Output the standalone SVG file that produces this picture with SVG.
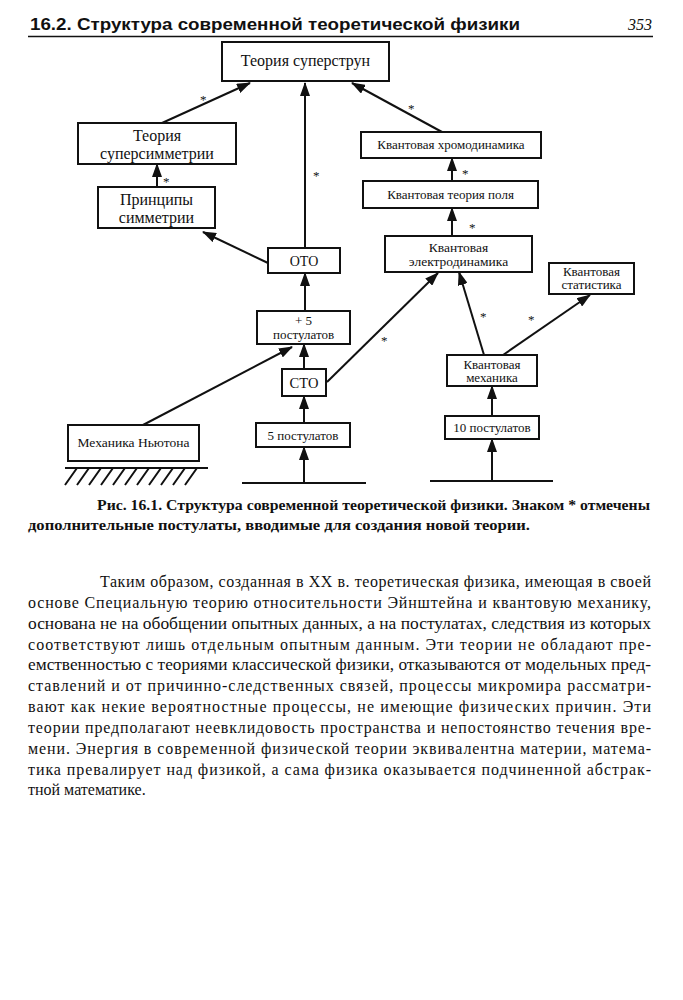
<svg xmlns="http://www.w3.org/2000/svg" width="683" height="1000" viewBox="0 0 683 1000">
<defs>
<marker id="ah" markerUnits="userSpaceOnUse" markerWidth="14" markerHeight="10" refX="13" refY="5" orient="auto">
<path d="M0,0 L14,5 L0,10 Z" fill="#111"/>
</marker>
<style>
.box{fill:#fff;stroke:#111;stroke-width:2}
.t{fill:#111;text-anchor:middle}
.big{font-size:16px}
.sm{font-size:13px}
.ln{stroke:#111;stroke-width:2;fill:none}
.ar{stroke:#111;stroke-width:2;fill:none;marker-end:url(#ah)}
.st{font-size:13px;fill:#111}
.body{font-size:16px;fill:#111}
.cap{font-size:14.5px;font-weight:bold;fill:#111}
</style>
</defs>
<rect width="683" height="1000" fill="#fff"/>
<g id="header">
<text x="30" y="30" font-family="'Liberation Sans', Arial, sans-serif" font-weight="bold" font-size="17" textLength="490" lengthAdjust="spacingAndGlyphs" fill="#111">16.2. Структура современной теоретической физики</text>
<text x="652" y="30" font-family="'Liberation Serif', serif" font-style="italic" font-size="16" text-anchor="end" fill="#111">353</text>
<line x1="28" y1="36.5" x2="653" y2="36.5" stroke="#111" stroke-width="1.5"/>
</g>
<g id="connectors" font-family="'Liberation Serif', serif">
<line class="ar" x1="162" y1="123" x2="250" y2="83"/>
<line class="ar" x1="305" y1="248" x2="305" y2="83"/>
<line class="ar" x1="442" y1="132" x2="352" y2="83"/>
<line class="ar" x1="157" y1="187" x2="157" y2="164"/>
<line class="ar" x1="268" y1="263" x2="203" y2="232"/>
<line class="ar" x1="305" y1="311" x2="305" y2="273"/>
<line class="ar" x1="143" y1="425" x2="292" y2="347"/>
<line class="ar" x1="304" y1="369" x2="304" y2="344"/>
<line class="ar" x1="304" y1="423" x2="304" y2="396"/>
<line class="ar" x1="304" y1="483" x2="304" y2="447"/>
<line class="ar" x1="327" y1="382" x2="438" y2="273"/>
<line class="ar" x1="484" y1="355" x2="459" y2="272"/>
<line class="ar" x1="503" y1="355" x2="590" y2="295"/>
<line class="ar" x1="492" y1="416" x2="492" y2="386"/>
<line class="ar" x1="492" y1="481" x2="492" y2="439"/>
<line class="ar" x1="452" y1="181" x2="452" y2="158"/>
<line class="ar" x1="452" y1="236" x2="452" y2="208"/>
<text class="st" x="200" y="104">*</text>
<text class="st" x="313" y="180">*</text>
<text class="st" x="408" y="113">*</text>
<text class="st" x="163" y="186">*</text>
<text class="st" x="381" y="345">*</text>
<text class="st" x="480" y="321">*</text>
<text class="st" x="528" y="324">*</text>
<text class="st" x="462" y="178">*</text>
<text class="st" x="469" y="232">*</text>
</g>
<g id="ground">
<line class="ln" x1="65" y1="468" x2="208" y2="468"/>
<path class="ln" stroke-width="1.6" d="M77,468 l-12,17 M89,468 l-12,17 M101,468 l-12,17 M113,468 l-12,17 M125,468 l-12,17 M137,468 l-12,17 M149,468 l-12,17 M161,468 l-12,17 M173,468 l-12,17 M185,468 l-12,17 M197,468 l-12,17"/>
<line class="ln" x1="242" y1="483" x2="366" y2="483"/>
<line class="ln" x1="430" y1="481" x2="553" y2="481"/>
</g>
<g id="nodes" font-family="'Liberation Serif', 'Times New Roman', serif">
<g id="n-superstrings"><rect class="box" x="222" y="42" width="167" height="39"/><text class="t big" x="305.5" y="66">Теория суперструн</text></g>
<g id="n-supersym"><rect class="box" x="78" y="123" width="158" height="41"/><text class="t big" x="157" y="141">Теория</text><text class="t big" x="157" y="159">суперсимметрии</text></g>
<g id="n-principles"><rect class="box" x="98" y="187" width="117" height="41"/><text class="t big" x="156.5" y="205">Принципы</text><text class="t big" x="156.5" y="223">симметрии</text></g>
<g id="n-oto"><rect class="box" x="268" y="248" width="72" height="25"/><text class="t" font-size="14" x="304" y="266">ОТО</text></g>
<g id="n-plus5"><rect class="box" x="257" y="311" width="93" height="33"/><text class="t sm" x="303.5" y="325">+ 5</text><text class="t sm" x="303.5" y="339">постулатов</text></g>
<g id="n-sto"><rect class="box" x="282" y="369" width="44" height="27"/><text class="t" font-size="14.5" x="304" y="388">СТО</text></g>
<g id="n-5post"><rect class="box" x="256" y="423" width="94" height="24"/><text class="t sm" x="303" y="440">5 постулатов</text></g>
<g id="n-newton"><rect class="box" x="68" y="425" width="131" height="36"/><text class="t" font-size="13.5" x="133.5" y="447">Механика Ньютона</text></g>
<g id="n-qcd"><rect class="box" x="361" y="132" width="180" height="26"/><text class="t sm" x="451" y="149">Квантовая хромодинамика</text></g>
<g id="n-qft"><rect class="box" x="363" y="181" width="175" height="27"/><text class="t sm" x="450.5" y="199">Квантовая теория поля</text></g>
<g id="n-qed"><rect class="box" x="385" y="236" width="147" height="36"/><text class="t" font-size="13.5" x="458.5" y="252">Квантовая</text><text class="t" font-size="13.5" x="458.5" y="266">электродинамика</text></g>
<g id="n-qstat"><rect class="box" x="549" y="263" width="85" height="31"/><text class="t sm" x="591.5" y="276">Квантовая</text><text class="t sm" x="591.5" y="289">статистика</text></g>
<g id="n-qm"><rect class="box" x="447" y="355" width="90" height="31"/><text class="t sm" x="492" y="369">Квантовая</text><text class="t sm" x="492" y="382">механика</text></g>
<g id="n-10post"><rect class="box" x="445" y="416" width="94" height="23"/><text class="t sm" x="492" y="432">10 постулатов</text></g>
</g>
<g id="caption" font-family="'Liberation Serif', 'Times New Roman', serif">
<text class="cap" x="97" y="510" textLength="553" lengthAdjust="spacingAndGlyphs">Рис. 16.1. Структура современной теоретической физики. Знаком * отмечены</text>
<text class="cap" x="28" y="530" textLength="502" lengthAdjust="spacingAndGlyphs">дополнительные постулаты, вводимые для создания новой теории.</text>
</g>
<g id="body" font-family="'Liberation Serif', 'Times New Roman', serif">
<text class="body" x="100" y="587" textLength="551" lengthAdjust="spacing">Таким образом, созданная в XX в. теоретическая физика, имеющая в своей</text>
<text class="body" x="28" y="608" textLength="623" lengthAdjust="spacing">основе Специальную теорию относительности Эйнштейна и квантовую механику,</text>
<text class="body" x="28" y="629" textLength="623" lengthAdjust="spacingAndGlyphs">основана не на обобщении опытных данных, а на постулатах, следствия из которых</text>
<text class="body" x="28" y="650" textLength="623" lengthAdjust="spacing">соответствуют лишь отдельным опытным данным. Эти теории не обладают пре-</text>
<text class="body" x="28" y="670" textLength="623" lengthAdjust="spacingAndGlyphs">емственностью с теориями классической физики, отказываются от модельных пред-</text>
<text class="body" x="28" y="691" textLength="623" lengthAdjust="spacing">ставлений и от причинно-следственных связей, процессы микромира рассматри-</text>
<text class="body" x="28" y="712" textLength="623" lengthAdjust="spacing">вают как некие вероятностные процессы, не имеющие физических причин. Эти</text>
<text class="body" x="28" y="733" textLength="623" lengthAdjust="spacing">теории предполагают неевклидовость пространства и непостоянство течения вре-</text>
<text class="body" x="28" y="754" textLength="623" lengthAdjust="spacing">мени. Энергия в современной физической теории эквивалентна материи, матема-</text>
<text class="body" x="28" y="775" textLength="623" lengthAdjust="spacing">тика превалирует над физикой, а сама физика оказывается подчиненной абстрак-</text>
<text class="body" x="28" y="795">тной математике.</text>
</g>
</svg>
